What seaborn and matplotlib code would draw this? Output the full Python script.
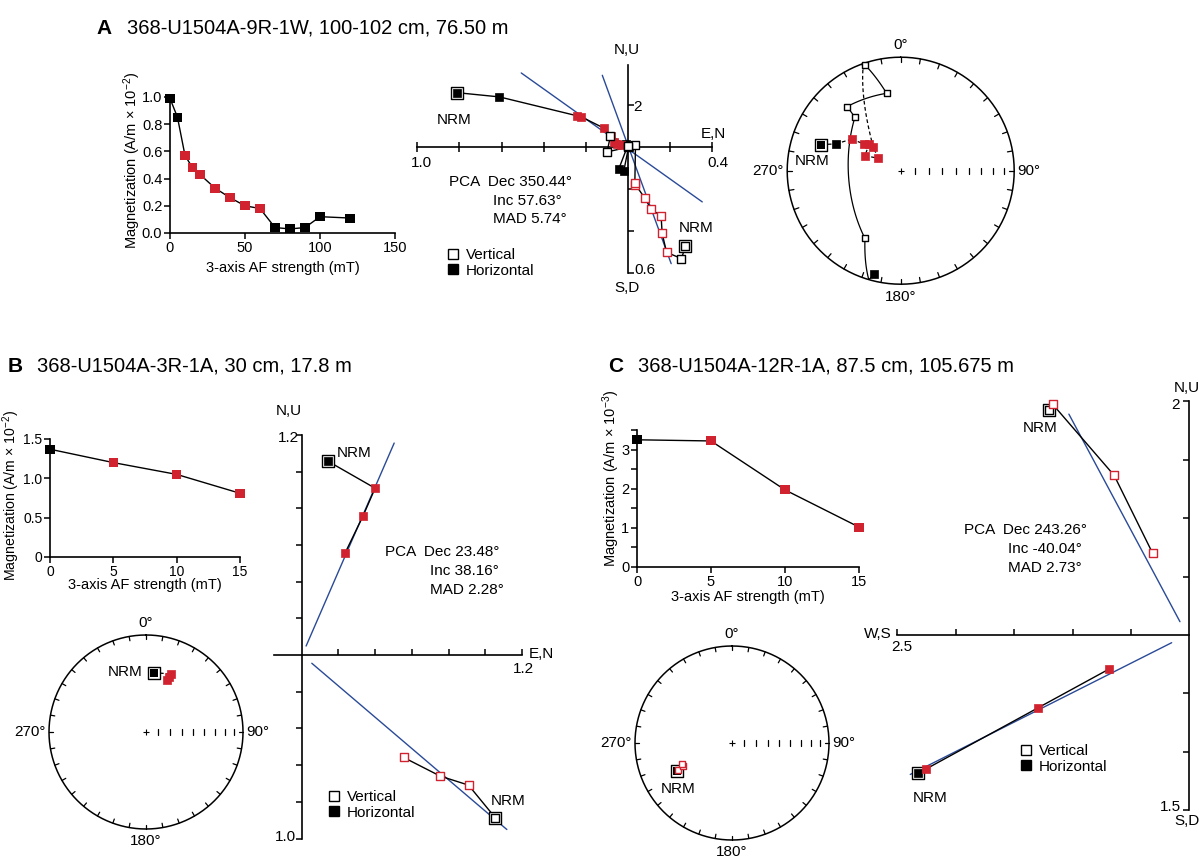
import numpy as np
import pandas as pd
import matplotlib.pyplot as plt
from matplotlib.lines import Line2D
import seaborn as sns

sns.set_theme(style="ticks", rc={"axes.edgecolor": "black", "xtick.color": "black",
                                 "ytick.color": "black", "text.color": "black"})
plt.rcParams['font.family'] = ['Liberation Sans', 'DejaVu Sans']
plt.rcParams['mathtext.default'] = 'regular'

W, H = 1200, 857
RED = '#d1232f'
BLUE = '#2a4a98'

# ---------- A: 368-U1504A-9R-1W ----------
a_af = [0, 5, 10, 15, 20, 30, 40, 50, 60, 70, 80, 90, 100, 120]
a_mag = [0.99, 0.85, 0.57, 0.48, 0.43, 0.33, 0.26, 0.20, 0.18, 0.04, 0.03, 0.04, 0.12, 0.11]
a_fit = [0, 0, 1, 1, 1, 1, 1, 1, 1, 0, 0, 0, 0, 0]
# orthogonal plot (horizontal: E, N / vertical: N, Up)
a_hor_e = [-0.81, -0.61, -0.24, -0.22, -0.11, -0.078, -0.065, -0.049, -0.033, -0.005, 0.0, -0.041, -0.018, 0.005]
a_hor_n = [0.26, 0.24, 0.15, 0.145, 0.09, 0.052, 0.025, 0.017, 0.01, 0.017, 0.005, -0.102, -0.114, 0.0]
a_ver_n = [0.276, 0.257, 0.186, 0.165, 0.16, 0.113, 0.081, 0.038, 0.035, 0.038, 0.0, -0.097, -0.081, 0.0]
a_ver_up = [-0.47, -0.53, -0.50, -0.41, -0.327, -0.295, -0.24, -0.178, -0.17, 0.01, 0.0, -0.022, 0.056, 0.005]
a_pca1_x, a_pca1_y = [-0.506, 0.356], [0.354, -0.26]
a_pca2_x, a_pca2_y = [-0.12, 0.208], [0.343, -0.554]
# stereonet
a_dec = [288.2, 292.4, 302.8, 306.0, 310.4, 292.8, 299.0, 310.5, 341.3, 349.7, 320.2, 319.4, 207.8, 194.3]
a_inc = [27.4, 38.3, 47.6, 57.1, 60.2, 62.1, 71.7, 64.1, -1.8, -31.3, -27.3, -38.0, -33.0, 6.6]
a_st_fit = [0, 0, 1, 1, 1, 1, 1, 1, 0, 0, 0, 0, 0, 0]

# ---------- B: 368-U1504A-3R-1A ----------
b_af = [0, 5, 10, 15]
b_mag = [1.37, 1.20, 1.05, 0.81]
b_fit = [0, 1, 1, 1]
b_hor_e = [0.145, 0.40, 0.333, 0.236]
b_hor_n = [1.055, 0.909, 0.755, 0.555]
b_ver_n = [1.055, 0.909, 0.755, 0.555]
b_ver_up = [-0.887, -0.709, -0.66, -0.558]
b_pca1_x, b_pca1_y = [0.024, 0.504], [0.049, 1.155]
b_pca2_x, b_pca2_y = [0.055, 1.118], [-0.045, -0.951]
b_dec = [7.4, 23.0, 23.0, 22.5]
b_inc = [38.6, 35.5, 38.5, 42.0]

# ---------- C: 368-U1504A-12R-1A ----------
c_af = [0, 5, 10, 15]
c_mag = [3.25, 3.22, 1.97, 1.02]
c_fit = [0, 1, 1, 1]
c_hor_e = [-2.323, -2.257, -1.294, -0.686]
c_hor_n = [-1.18, -1.149, -0.623, -0.291]
c_ver_n = [-1.2, -1.171, -0.643, -0.314]
c_ver_up = [1.923, 1.977, 1.366, 0.70]
c_pca1_x, c_pca1_y = [-1.031, -0.08], [1.891, 0.114]
c_pca2_x, c_pca2_y = [-2.389, -0.151], [-1.194, -0.066]
c_dec = [243.1, 243.0, 244.3, 247.0]
c_inc = [-36.4, -38.0, -43.6, -43.2]

fig = plt.figure(figsize=(W / 100, H / 100), dpi=100)


def px_axes(l, t, r, b):
    return fig.add_axes([l / W, 1 - b / H, (r - l) / W, (b - t) / H])


def ftext(x, y, s, **kw):
    kw.setdefault('fontsize', 11)
    kw.setdefault('va', 'center')
    fig.text(x / W, 1 - y / H, s, **kw)


def squares(ax, x, y, fit, filled, s=36, z=4):
    x, y, fit = np.asarray(x, float), np.asarray(y, float), np.asarray(fit, bool)
    for mask, col in [(~fit, 'black'), (fit, RED)]:
        if not mask.any():
            continue
        if filled:
            sns.scatterplot(x=x[mask], y=y[mask], marker='s', s=s, color=col, edgecolor=col,
                            linewidth=0.5, ax=ax, zorder=z, clip_on=False, legend=False)
        else:
            sns.scatterplot(x=x[mask], y=y[mask], marker='s', s=s * 0.85, facecolor='white',
                            edgecolor=col, linewidth=1, ax=ax, zorder=z, clip_on=False, legend=False)


def nrm_box(ax, x, y, s=85):
    sns.scatterplot(x=[x], y=[y], marker='s', s=s, facecolor='white', edgecolor='black',
                    linewidth=1, ax=ax, zorder=3.5, clip_on=False, legend=False)


# ---------- decay plots ----------
def decay(box, af, mag, fit, xlim, ylim, xt, yt, ytl=None, minor=None, lsize=10.5):
    ax = px_axes(*box)
    ax.patch.set_alpha(0)
    sns.lineplot(x=af, y=mag, color='black', lw=1, sort=False, estimator=None, ax=ax)
    df = pd.DataFrame({'af': af, 'mag': mag, 'step': ['fit' if f else 'other' for f in fit]})
    sns.scatterplot(data=df, x='af', y='mag', hue='step', palette={'fit': RED, 'other': 'black'},
                    marker='s', s=42, linewidth=0, legend=False, ax=ax, clip_on=False, zorder=3)
    ax.set_xlim(xlim)
    ax.set_ylim(ylim)
    ax.set_xticks(xt)
    ax.set_yticks(yt)
    if ytl is not None:
        ax.set_yticklabels(ytl)
    if minor is not None:
        ax.set_yticks(minor, minor=True)
    for s in ['top', 'right']:
        ax.spines[s].set_visible(False)
    for s in ['left', 'bottom']:
        ax.spines[s].set_linewidth(1.2)
    ax.tick_params(which='both', direction='out', length=4, width=1.1, labelsize=lsize, pad=1.5)
    ax.set_xlabel('')
    ax.set_ylabel('')
    return ax


decay((170, 97, 395, 233), a_af, a_mag, a_fit, (0, 150), (0, 1.0), [0, 50, 100, 150],
      [0, 0.2, 0.4, 0.6, 0.8, 1.0])
ftext(283, 268, '3-axis AF strength (mT)', fontsize=10.5, ha='center')
ftext(132, 160, 'Magnetization (A/m × 10$^{-2}$)', fontsize=10.5, ha='center', rotation=90)

decay((50, 439, 240, 557), b_af, b_mag, b_fit, (0, 15), (0, 1.5), [0, 5, 10, 15],
      [0, 0.5, 1.0, 1.5], ['0', '0.5', '1.0', '1.5'], lsize=10)
ftext(145, 585, '3-axis AF strength (mT)', fontsize=10.5, ha='center')
ftext(11, 495, 'Magnetization (A/m × 10$^{-2}$)', fontsize=10.2, ha='center', rotation=90)

decay((637, 430, 859, 567), c_af, c_mag, c_fit, (0, 15), (0, 3.5), [0, 5, 10, 15],
      [0, 1, 2, 3], minor=[0.5, 1.5, 2.5, 3.5])
ftext(748, 597, '3-axis AF strength (mT)', fontsize=10.5, ha='center')
ftext(611, 478, 'Magnetization (A/m × 10$^{-3}$)', fontsize=10.5, ha='center', rotation=90)


# ---------- orthogonal (Zijderveld) plots ----------
def zij(box, origin, scale, xb, yb, xt, yt, xdir, ydir):
    l, t, r, b = box
    ox, oy = origin
    ax = px_axes(l, t, r, b)
    ax.patch.set_alpha(0)
    ax.set_xlim((l - ox) / scale, (r - ox) / scale)
    ax.set_ylim((oy - b) / scale, (oy - t) / scale)
    for s in ['top', 'right']:
        ax.spines[s].set_visible(False)
    for s in ['left', 'bottom']:
        ax.spines[s].set_position(('data', 0))
        ax.spines[s].set_linewidth(1.2)
    ax.spines['bottom'].set_bounds(*xb)
    ax.spines['left'].set_bounds(*yb)
    ax.set_xticks(xt)
    ax.set_yticks(yt)
    ax.tick_params(axis='x', direction=xdir, length=4 if xdir != 'inout' else 7, width=1.1,
                   labelbottom=False)
    ax.tick_params(axis='y', direction=ydir, length=4, width=1.1, labelleft=False)
    return ax


def zij_data(ax, hx, hy, vx, vy, fit, pcas):
    for px, py in pcas:
        sns.lineplot(x=px, y=py, color=BLUE, lw=1, sort=False, estimator=None, ax=ax, zorder=1)
    sns.lineplot(x=hx, y=hy, color='black', lw=1, sort=False, estimator=None, ax=ax, zorder=2)
    sns.lineplot(x=vx, y=vy, color='black', lw=1, sort=False, estimator=None, ax=ax, zorder=2)
    nrm_box(ax, hx[0], hy[0])
    nrm_box(ax, vx[0], vy[0])
    squares(ax, hx, hy, fit, True)
    squares(ax, vx, vy, fit, False)
    ax.set_xlabel('')
    ax.set_ylabel('')


def zij_legend(ax, x, y):
    hs = [Line2D([], [], marker='s', ls='none', mfc='white', mec='black', ms=6.5, mew=1),
          Line2D([], [], marker='s', ls='none', mfc='black', mec='black', ms=6.5)]
    ax.legend(hs, ['Vertical', 'Horizontal'], loc='upper left', bbox_to_anchor=(x / W, 1 - y / H),
              bbox_transform=fig.transFigure, frameon=False, fontsize=11, handlelength=0.7,
              handletextpad=0.45, labelspacing=0.12, borderpad=0, borderaxespad=0)


axA = zij((405, 45, 730, 290), (627.5, 147.3), 210, (-1.0, 0.4), (-0.6, 0.39),
          [-1.0, -0.8, -0.6, -0.4, -0.2, 0.2, 0.4], [-0.6, -0.4, -0.2, 0.2], 'inout', 'in')
zij_data(axA, a_hor_e, a_hor_n, a_ver_n, a_ver_up, a_fit,
         [(a_pca1_x, a_pca1_y), (a_pca2_x, a_pca2_y)])
zij_legend(axA, 448, 248)
ftext(627, 50, 'N,U', ha='center')
ftext(633, 107, '2', ha='left')
ftext(701, 134, 'E,N', ha='left')
ftext(718, 163, '0.4', ha='center')
ftext(421, 163, '1.0', ha='center')
ftext(634, 270, '0.6', ha='left')
ftext(627, 288, 'S,D', ha='center')
ftext(454, 120, 'NRM', ha='center')
ftext(696, 228, 'NRM', ha='center')
ftext(449, 182, 'PCA  Dec 350.44°', ha='left')
ftext(493, 201, 'Inc 57.63°', ha='left')
ftext(493, 219, 'MAD 5.74°', ha='left')

axB = zij((265, 420, 545, 845), (301.7, 655), 183.5, (-0.15, 1.2), (-1.0, 1.2),
          [0.2, 0.4, 0.6, 0.8, 1.0, 1.2], [-1.0, -0.8, -0.6, -0.4, -0.2, 0.2, 0.4, 0.6, 0.8, 1.0, 1.2],
          'in', 'out')
zij_data(axB, b_hor_e, b_hor_n, b_ver_n, b_ver_up, b_fit,
         [(b_pca1_x, b_pca1_y), (b_pca2_x, b_pca2_y)])
zij_legend(axB, 329, 790)
ftext(289, 411, 'N,U', ha='center')
ftext(288, 438, '1.2', ha='center')
ftext(529, 654, 'E,N', ha='left')
ftext(523, 669, '1.2', ha='center')
ftext(285, 837, '1.0', ha='center')
ftext(354, 453, 'NRM', ha='center')
ftext(508, 801, 'NRM', ha='center')
ftext(385, 552, 'PCA  Dec 23.48°', ha='left')
ftext(430, 571, 'Inc 38.16°', ha='left')
ftext(430, 590, 'MAD 2.28°', ha='left')

axC = zij((880, 390, 1198, 815), (1189.3, 635), 116.8, (-2.5, 0), (-1.5, 2.0),
          [-2.5, -2.0, -1.5, -1.0, -0.5], [-1.5, -1.0, -0.5, 0.5, 1.0, 1.5, 2.0], 'in', 'out')
zij_data(axC, c_hor_e, c_hor_n, c_ver_n, c_ver_up, c_fit,
         [(c_pca1_x, c_pca1_y), (c_pca2_x, c_pca2_y)])
zij_legend(axC, 1021, 744)
ftext(1187, 388, 'N,U', ha='center')
ftext(1176, 405, '2', ha='center')
ftext(1170, 807, '1.5', ha='center')
ftext(1187, 821, 'S,D', ha='center')
ftext(878, 634, 'W,S', ha='center')
ftext(902, 647, '2.5', ha='center')
ftext(1040, 428, 'NRM', ha='center')
ftext(930, 798, 'NRM', ha='center')
ftext(964, 530, 'PCA  Dec 243.26°', ha='left')
ftext(1008, 549, 'Inc -40.04°', ha='left')
ftext(1008, 568, 'MAD 2.73°', ha='left')


# ---------- equal-area stereonets ----------
def to_vec(dec, inc):
    d, i = np.radians(dec), np.radians(inc)
    return np.array([np.cos(i) * np.cos(d), np.cos(i) * np.sin(d), np.sin(i)])


def project(v):
    n, e, d = v
    inc = np.arcsin(np.clip(d, -1, 1))
    dec = np.arctan2(e, n)
    r = np.sqrt(2) * np.sin((np.pi / 2 - np.abs(inc)) / 2)
    return r * np.sin(dec), r * np.cos(dec), d >= 0


def stereo(center, R, dec, inc, fit, nrm_xy, connect=True):
    cx, cy = center
    k = 1.2
    ax = px_axes(cx - k * R, cy - k * R, cx + k * R, cy + k * R)
    ax.set_xlim(-k, k)
    ax.set_ylim(-k, k)
    ax.axis('off')
    th = np.linspace(0, 2 * np.pi, 361)
    ax.plot(np.sin(th), np.cos(th), color='black', lw=1.1)
    for a in np.radians(np.arange(0, 360, 10)):
        ax.plot([0.955 * np.sin(a), np.sin(a)], [0.955 * np.cos(a), np.cos(a)], color='black', lw=0.9)
    ax.plot([0], [0], marker='+', color='black', ms=4, mew=0.8)
    for I in range(80, 0, -10):
        r = np.sqrt(2) * np.sin(np.radians(90 - I) / 2)
        ax.plot([r, r], [-0.028, 0.028], color='black', lw=0.9)
    ax.text(0, 1.05, '0°', ha='center', va='bottom', fontsize=11)
    ax.text(0, -1.05, '180°', ha='center', va='top', fontsize=11)
    ax.text(1.03, 0, '90°', ha='left', va='center', fontsize=11)
    ax.text(-1.03, 0, '270°', ha='right', va='center', fontsize=11)

    if connect:
        for j in range(len(dec) - 1):
            v1, v2 = to_vec(dec[j], inc[j]), to_vec(dec[j + 1], inc[j + 1])
            om = np.arccos(np.clip(np.dot(v1, v2), -1, 1))
            t = np.linspace(0, 1, 40)
            pts = [(np.sin((1 - s) * om) * v1 + np.sin(s * om) * v2) / np.sin(om) for s in t]
            pr = [project(p) for p in pts]
            runs, cur = [], [pr[0]]
            for p in pr[1:]:
                if p[2] != cur[-1][2]:
                    runs.append(cur + [p])
                    cur = [p]
                else:
                    cur.append(p)
            runs.append(cur)
            for run in runs:
                lower = run[0][2] if len(run) > 1 else run[-1][2]
                xs = [p[0] for p in run]
                ys = [p[1] for p in run]
                ax.plot(xs, ys, color='black', lw=0.9, ls=(0, (3, 2)) if lower else '-')

    xy = [project(to_vec(d, i)) for d, i in zip(dec, inc)]
    x = np.array([p[0] for p in xy])
    y = np.array([p[1] for p in xy])
    low = np.array([p[2] for p in xy])
    fit = np.asarray(fit, bool)
    nrm_box(ax, x[0], y[0], s=70)
    sns.scatterplot(x=[x[0]], y=[y[0]], marker='s', s=30, color='black', linewidth=0, ax=ax,
                    zorder=4, legend=False)
    rest = np.arange(len(x)) > 0
    squares(ax, x[rest & low], y[rest & low], fit[rest & low], True, s=28, z=5)
    squares(ax, x[rest & ~low], y[rest & ~low], fit[rest & ~low], False, s=28, z=5)
    ftext(nrm_xy[0], nrm_xy[1], 'NRM', ha='center')


stereo((900.7, 170.7), 113.5, a_dec, a_inc, a_st_fit, (812, 161))
stereo((146, 732), 97, b_dec, b_inc, b_fit, (125, 672))
stereo((732, 743), 97, c_dec, c_inc, c_fit, (678, 789), connect=False)

# ---------- titles ----------
ftext(96, 28, 'A', fontsize=15, fontweight='bold', ha='left')
ftext(127, 28, '368-U1504A-9R-1W, 100-102 cm, 76.50 m', fontsize=14.5, ha='left')
ftext(8, 366, 'B', fontsize=15, fontweight='bold', ha='left')
ftext(37, 366, '368-U1504A-3R-1A, 30 cm, 17.8 m', fontsize=14.5, ha='left')
ftext(608, 366, 'C', fontsize=15, fontweight='bold', ha='left')
ftext(638, 366, '368-U1504A-12R-1A, 87.5 cm, 105.675 m', fontsize=14.5, ha='left')

fig.savefig('out.png', dpi=100, facecolor='white')
